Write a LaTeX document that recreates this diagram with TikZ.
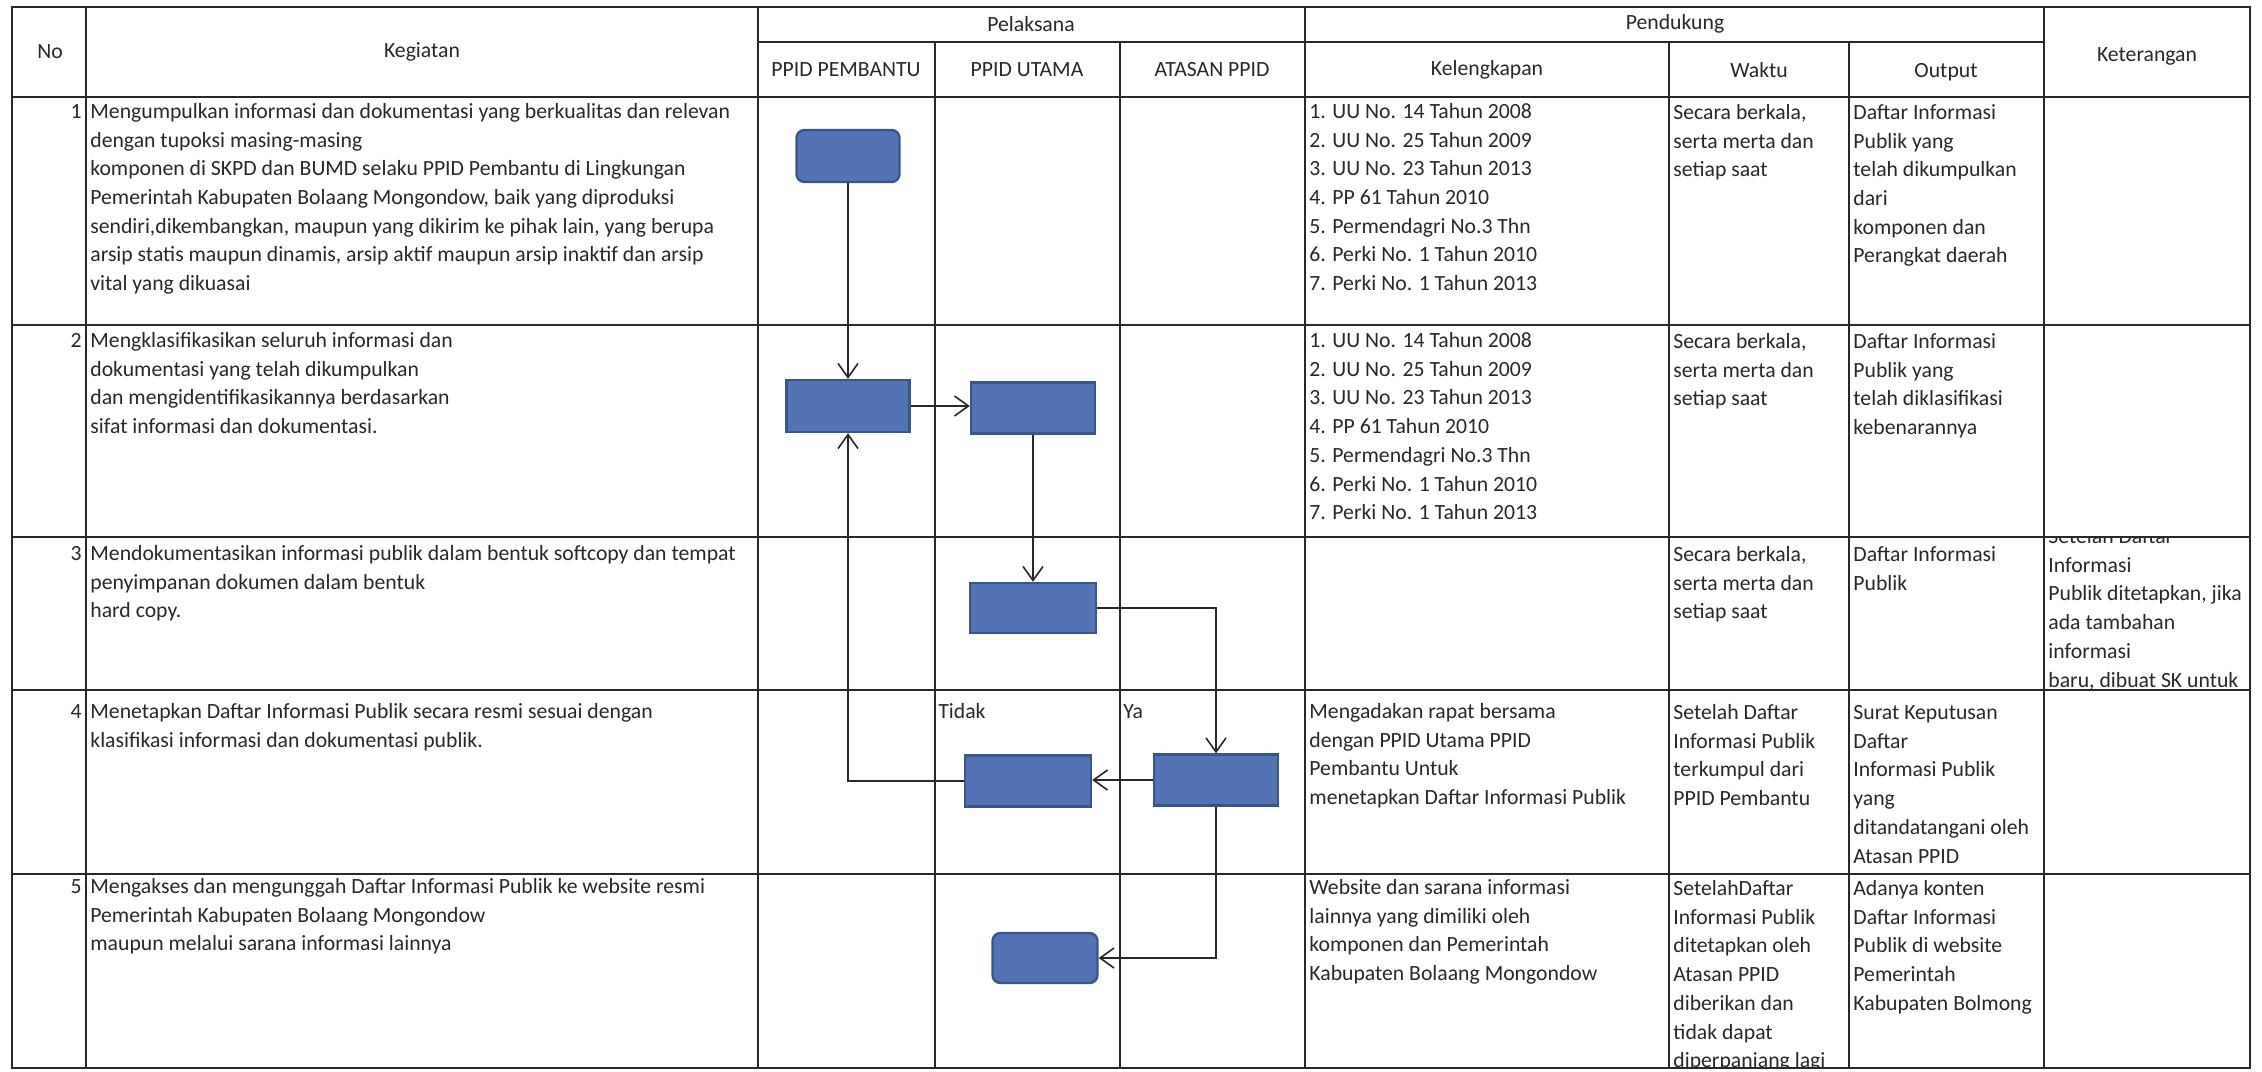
\documentclass[tikz,border=0pt]{standalone}
\usepackage{fontspec}
\setmainfont{Carlito}
\usetikzlibrary{arrows.meta}
\definecolor{boxfill}{RGB}{82,116,180}
\definecolor{boxline}{RGB}{56,86,136}
\definecolor{ink}{RGB}{40,40,40}
\newcommand{\cellfont}{\fontsize{10.85}{14.35}\selectfont}
\begin{document}
\begin{tikzpicture}[x=0.5pt,y=-0.5pt,
  grid/.style={line width=1pt, draw=ink},
  cell/.style={anchor=north west, inner sep=0pt, align=left, font=\cellfont, text=ink},
  numcell/.style={anchor=north east, inner sep=0pt, font=\cellfont, text=ink},
  head/.style={inner sep=0pt, font=\cellfont, text=ink},
  box/.style={draw=boxline, fill=boxfill, line width=1.2pt, inner sep=0pt},
  flow/.style={line width=0.8pt, draw=ink, -{Straight Barb[length=7pt,width=10pt,line width=0.8pt]}}]
\useasboundingbox (0,0) rectangle (2262,1071);
\fill[white] (0,0) rectangle (2262,1071);

% ---- grid ----
\draw[grid] (12,7) rectangle (2250,1068);
\foreach \yy in {97,325,537,690,874} \draw[grid] (12,\yy) -- (2250,\yy);
\draw[grid] (758,42) -- (2044,42);
\foreach \xx in {86,758,1305,2044} \draw[grid] (\xx,7) -- (\xx,1068);
\foreach \xx in {935,1120,1669,1849} \draw[grid] (\xx,42) -- (\xx,1068);

% ---- header ----
\node[head] (hno) at (50,52) {No};
\node[head] (hkeg) at (422,52) {Kegiatan};
\node[head] (hpel) at (1031,24) {Pelaksana};
\node[head] (hpen) at (1675,24) {Pendukung};
\node[head] (hket) at (2147,56) {Keterangan};
\node[head] (hpb) at (846,70) {PPID PEMBANTU};
\node[head] (hpu) at (1027,70) {PPID UTAMA};
\node[head] (hat) at (1212,70) {ATASAN PPID};
\node[head] (hkel) at (1487,70) {Kelengkapan};
\node[head] (hwak) at (1759,70) {Waktu};
\node[head] (hout) at (1946,72) {Output};

% ---- row 1 ----
\node[numcell] (n1) at (82,98) {\strut 1};
\node[cell] (k1) at (90,98) {\strut Mengumpulkan informasi dan dokumentasi yang berkualitas dan relevan\\
dengan tupoksi masing-masing\\
komponen di SKPD dan BUMD selaku PPID Pembantu di Lingkungan\\
Pemerintah Kabupaten Bolaang Mongondow, baik yang diproduksi\\
sendiri,dikembangkan, maupun yang dikirim ke pihak lain, yang berupa\\
arsip statis maupun dinamis, arsip aktif maupun arsip inaktif dan arsip\\
vital yang dikuasai};
\node[cell] (l1) at (1309,98) {\strut 1. UU No. 14 Tahun 2008\\2. UU No. 25 Tahun 2009\\3. UU No. 23 Tahun 2013\\4. PP 61 Tahun 2010\\5. Permendagri No.3 Thn\\6. Perki No. 1 Tahun 2010\\7. Perki No. 1 Tahun 2013};
\node[cell] (w1) at (1673,99) {\strut Secara berkala,\\serta merta dan\\setiap saat};
\node[cell] (o1) at (1853,99) {\strut Daftar Informasi\\Publik yang\\telah dikumpulkan\\dari\\komponen dan\\Perangkat daerah};

% ---- row 2 ----
\node[numcell] (n2) at (82,327) {\strut 2};
\node[cell] (k2) at (90,327) {\strut Mengklasifikasikan seluruh informasi dan\\
dokumentasi yang telah dikumpulkan\\
dan mengidentifikasikannya berdasarkan\\
sifat informasi dan dokumentasi.};
\node[cell] (l2) at (1309,327) {\strut 1. UU No. 14 Tahun 2008\\2. UU No. 25 Tahun 2009\\3. UU No. 23 Tahun 2013\\4. PP 61 Tahun 2010\\5. Permendagri No.3 Thn\\6. Perki No. 1 Tahun 2010\\7. Perki No. 1 Tahun 2013};
\node[cell] (w2) at (1673,328) {\strut Secara berkala,\\serta merta dan\\setiap saat};
\node[cell] (o2) at (1853,328) {\strut Daftar Informasi\\Publik yang\\telah diklasifikasi\\kebenarannya};

% ---- row 3 ----
\node[numcell] (n3) at (82,540) {\strut 3};
\node[cell] (k3) at (90,540) {\strut Mendokumentasikan informasi publik dalam bentuk softcopy dan tempat\\
penyimpanan dokumen dalam bentuk\\
hard copy.};
\node[cell] (w3) at (1673,541) {\strut Secara berkala,\\serta merta dan\\setiap saat};
\node[cell] (o3) at (1853,541) {\strut Daftar Informasi\\Publik};
\begin{scope}
\clip (2045,538) rectangle (2249,689);
\node[cell] (t3) at (2048,523) {\strut Setelah Daftar\\Informasi\\Publik ditetapkan, jika\\ada tambahan\\informasi\\baru, dibuat SK untuk};
\end{scope}

% ---- row 4 ----
\node[numcell] (n4) at (82,698) {\strut 4};
\node[cell] (k4) at (90,698) {\strut Menetapkan Daftar Informasi Publik secara resmi sesuai dengan\\
klasifikasi informasi dan dokumentasi publik.};
\node[cell] (tidak) at (938,698) {\strut Tidak};
\node[cell] (ya) at (1123,698) {\strut Ya};
\node[cell] (l4) at (1309,698) {\strut Mengadakan rapat bersama\\dengan PPID Utama PPID\\Pembantu Untuk\\menetapkan Daftar Informasi Publik};
\node[cell] (w4) at (1673,699) {\strut Setelah Daftar\\Informasi Publik\\terkumpul dari\\PPID Pembantu};
\node[cell] (o4) at (1853,699) {\strut Surat Keputusan\\Daftar\\Informasi Publik\\yang\\ditandatangani oleh\\Atasan PPID};

% ---- row 5 ----
\node[numcell] (n5) at (82,873) {\strut 5};
\node[cell] (k5) at (90,873) {\strut Mengakses dan mengunggah Daftar Informasi Publik ke website resmi\\
Pemerintah Kabupaten Bolaang Mongondow\\
maupun melalui sarana informasi lainnya};
\node[cell] (l5) at (1309,874) {\strut Website dan sarana informasi\\lainnya yang dimiliki oleh\\komponen dan Pemerintah\\Kabupaten Bolaang Mongondow};
\begin{scope}
\clip (1670,875) rectangle (1848,1067);
\node[cell] (w5) at (1673,875) {\strut SetelahDaftar\\Informasi Publik\\ditetapkan oleh\\Atasan PPID\\diberikan dan\\tidak dapat\\diperpanjang lagi};
\end{scope}
\node[cell] (o5) at (1853,875) {\strut Adanya konten\\Daftar Informasi\\Publik di website\\Pemerintah\\Kabupaten Bolmong};

% ---- flow boxes ----
\node[box, rounded corners=4pt, minimum width=51.5pt, minimum height=26pt] (b1) at (848,156) {};
\node[box, minimum width=61.5pt, minimum height=26pt] (b2a) at (848,406) {};
\node[box, minimum width=62pt, minimum height=25.5pt] (b2b) at (1033,408) {};
\node[box, minimum width=63pt, minimum height=25pt] (b3) at (1033,608) {};
\node[box, minimum width=62pt, minimum height=25.5pt] (b4b) at (1216,780) {};
\node[box, minimum width=63pt, minimum height=25.5pt] (b4a) at (1028,781) {};
\node[box, rounded corners=4pt, minimum width=52.5pt, minimum height=25pt] (b5) at (1045,958) {};

% ---- connectors ----
\draw[flow] (b1.south) -- (b2a.north);
\draw[flow] (b2a.east) -- (b2a.east -| b2b.west);
\draw[flow] (b2b.south) -- (b3.north);
\draw[flow] (b3.east) -| (b4b.north);
\draw[flow] (b4b.west) -- (b4b.west -| b4a.east);
\draw[flow] (b4a.west) -| (b2a.south);
\draw[flow] (b4b.south) |- (b5.east);
\end{tikzpicture}
\end{document}
